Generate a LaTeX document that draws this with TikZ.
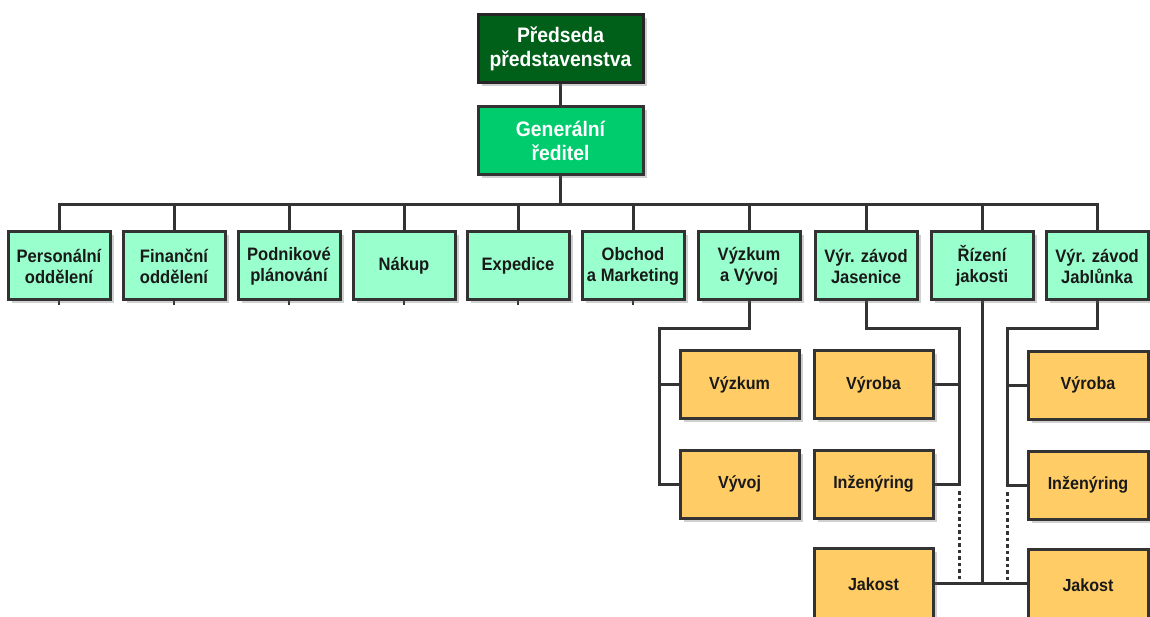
\documentclass[tikz,border=0pt]{standalone}
\usepackage{fontspec}
\setmainfont{Liberation Sans}[FakeStretch=0.92]
\usetikzlibrary{shadows,calc}
\pgfdeclarelayer{background}
\pgfsetlayers{background,main}
\definecolor{darkgreen}{HTML}{00601A}
\definecolor{midgreen}{HTML}{00CC6E}
\definecolor{mint}{HTML}{99FFCC}
\definecolor{orangebox}{HTML}{FFCC66}
\definecolor{edge}{HTML}{333333}
\tikzset{
  box/.style={draw=edge, line width=3pt, rectangle, align=center, inner sep=0pt,
    font=\bfseries, drop shadow={shadow xshift=3.5pt, shadow yshift=-3.5pt, opacity=0.3, fill=black!60}},
  topbox/.style={box, minimum width=165pt, minimum height=68pt, text=white,
    font=\fontsize{21}{24}\selectfont\bfseries},
  deptbox/.style={box, fill=mint, minimum width=102pt, minimum height=68pt,
    font=\fontsize{18}{21}\selectfont\bfseries, text=black!90},
  subbox/.style={box, fill=orangebox, minimum width=119pt, minimum height=68pt,
    font=\fontsize{17.5}{20}\selectfont\bfseries, text=black!90},
  link/.style={draw=edge, line width=3pt},
  dotlink/.style={draw=edge, line width=3pt, dash pattern=on 3.5pt off 3pt}
}
\begin{document}
\begin{tikzpicture}[x=1pt,y=-1pt]
\useasboundingbox (0,0) rectangle (1150,617);

% top
\node[topbox, fill=darkgreen, draw=black!85] (pred) at (560.5,48.5) {Předseda\\představenstva};
\node[topbox, fill=midgreen] (gen) at (560.5,141) {Generální\\ředitel};

% departments
\node[deptbox] (p1) at (59,266) {Personální\\oddělení};
\node[deptbox] (p2) at (174,266) {Finanční\\oddělení};
\node[deptbox] (p3) at (289,266) {Podnikové\\plánování};
\node[deptbox] (p4) at (404,266) {Nákup};
\node[deptbox] (p5) at (518,266) {Expedice};
\node[deptbox] (p6) at (633,266) {Obchod\\a Marketing};
\node[deptbox] (p7) at (749,266) {Výzkum\\a Vývoj};
\node[deptbox] (p8) at (866,266) {Výr. závod\\Jasenice};
\node[deptbox] (p9) at (982,266) {Řízení\\jakosti};
\node[deptbox] (p10) at (1097,266) {Výr. závod\\Jablůnka};

% sub units
\node[subbox] (vz) at (739.5,384.5) {Výzkum};
\node[subbox] (vv) at (739.5,484) {Vývoj};
\node[subbox] (r1) at (873.5,384.5) {Výroba};
\node[subbox] (i1) at (873.5,484) {Inženýring};
\node[subbox, minimum height=72pt] (k1) at (873.5,584) {Jakost};
\node[subbox, minimum width=120pt] (r2) at (1088,385) {Výroba};
\node[subbox, minimum width=120pt] (i2) at (1088,485) {Inženýring};
\node[subbox, minimum width=120pt, minimum height=72pt] (k2) at (1088,585) {Jakost};

\coordinate (lv) at (659,328);
\coordinate (jv) at (959,328);
\coordinate (bv) at (1007,328);

\begin{pgfonlayer}{background}
\fill[white] (0,0) rectangle (1150,617);
% connectors top
\draw[link] (pred.south) -- (gen.north);
\foreach \n in {p1,p2,p3,p4,p5,p6,p7,p8,p9,p10}{
  \draw[link] (gen.south) -- ++(0,28) -| (\n.north);
}
% small stubs
\foreach \n in {p1,p2,p3,p4,p5,p6}{
  \draw[edge, line width=2.2pt] (\n.south) -- ++(0,4);
}

% Vyzkum a Vyvoj
\draw[link] (p7.south) |- (lv) -- (lv |- vv.west) -- (vv.west);
\draw[link] (lv |- vz.west) -- (vz.west);

% Jasenice
\draw[link] (p8.south) |- (jv) -- (jv |- i1.east) -- (i1.east);
\draw[link] (r1.east) -- (r1.east -| jv);
\draw[dotlink] ([yshift=-7pt]jv |- i1.east) -- ([yshift=3pt]jv |- 0,583);

% Rizeni jakosti
\draw[link] (p9.south) -- (p9.south |- 0,583);
\draw[link] (k1.east |- 0,583) -- (k2.west |- 0,583);

% Jablunka
\draw[link] (p10.south) |- (bv) -- (bv |- i2.west) -- (i2.west);
\draw[link] (bv |- r2.west) -- (r2.west);
\draw[dotlink] ([yshift=-7pt]bv |- i2.west) -- ([yshift=3pt]bv |- 0,583);
\end{pgfonlayer}
\end{tikzpicture}
\end{document}
